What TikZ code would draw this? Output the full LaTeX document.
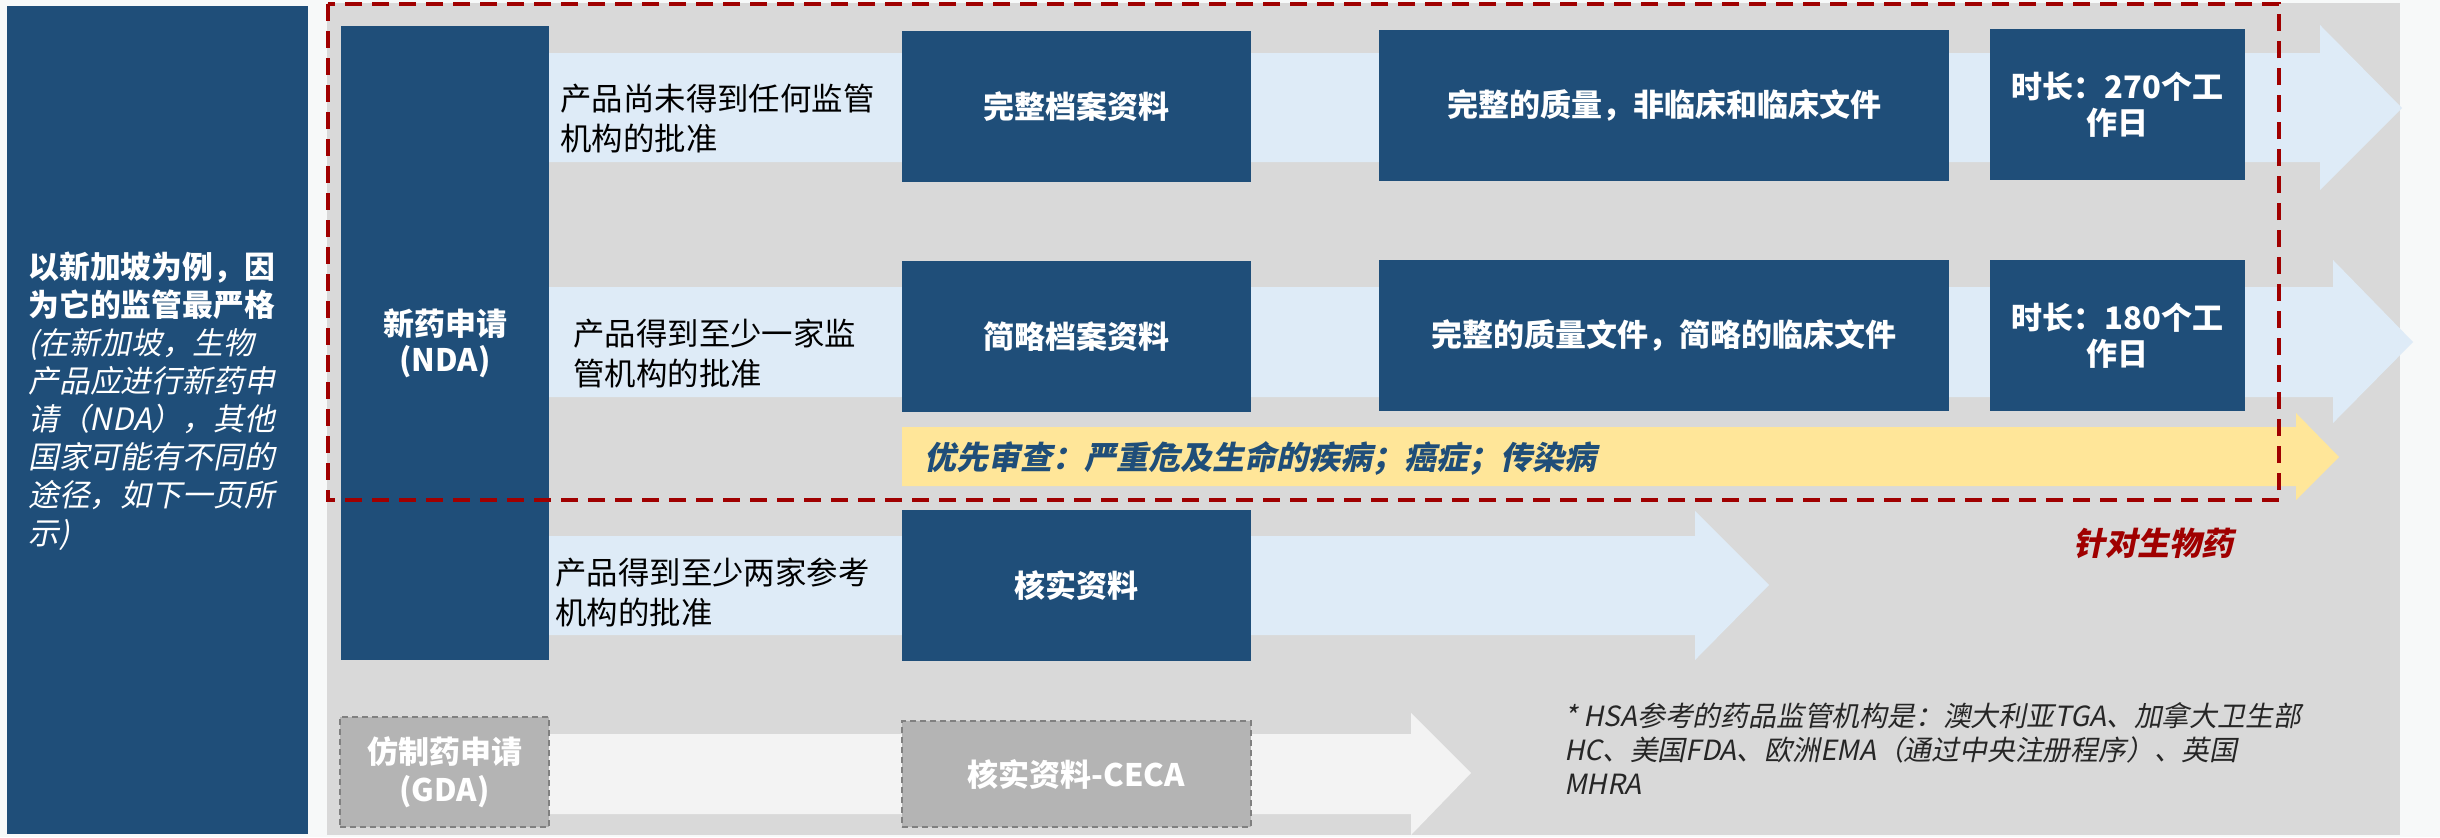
\documentclass[tikz,border=0pt]{standalone}
\usepackage{fontspec}
\setmainfont{Noto Sans CJK SC}
\newfontfamily\slantfont[FakeSlant=0.2]{Noto Sans CJK SC}
\definecolor{dblue}{HTML}{1F4E79}
\definecolor{lblue}{HTML}{DEEBF7}
\definecolor{panel}{HTML}{D9D9D9}
\definecolor{pagebg}{HTML}{F7F9F9}
\definecolor{yel}{HTML}{FFE699}
\definecolor{dred}{HTML}{A00000}
\definecolor{gboxc}{HTML}{B4B4B4}
\definecolor{gdash}{HTML}{808080}
\definecolor{gband}{HTML}{F3F3F3}
\definecolor{notec}{HTML}{262626}
\begin{document}
\begin{tikzpicture}[x=0.5pt,y=-0.5pt,
  box/.style={fill=dblue, text=white, font=\bfseries\fontsize{15.5}{18}\selectfont, align=center, inner sep=0pt},
  gbox/.style={fill=gboxc, draw=gdash, line width=1pt, dash pattern=on 3pt off 2pt, text=white, font=\bfseries\fontsize{15.5}{19}\selectfont, align=center, inner sep=0pt},
  lbl/.style={font=\fontsize{15.7}{20}\selectfont, align=left, inner sep=0pt, anchor=west, text=black},
  band/.style={fill=lblue, draw=none}
]
\useasboundingbox (0,0) rectangle (2440,837);
\fill[pagebg] (0,0) rectangle (2440,837);
% grey panel
\fill[panel] (327,3) rectangle (2400,835);
% left box
\node[fill=dblue, inner sep=0pt, minimum width=150.5pt, minimum height=414pt] (L) at (157.5,420) {};
\node[anchor=west, inner sep=0pt, align=left, text=white, font=\fontsize{15.4}{19}\selectfont] (Ltext) at (28,401)
 {\bfseries 以新加坡为例，因\\ \bfseries 为它的监管最严格\\
  \slantfont(在新加坡，生物\\ \slantfont 产品应进行新药申\\ \slantfont 请（NDA），其他\\
  \slantfont 国家可能有不同的\\ \slantfont 途径，如下一页所\\ \slantfont 示)};
% bands
\fill[band] (549,53) -- (2320,53) -- (2320,25) -- (2402,108) -- (2320,190) -- (2320,162) -- (549,162) -- cycle;
\fill[band] (549,287) -- (2333,287) -- (2333,260) -- (2413,342) -- (2333,423) -- (2333,397) -- (549,397) -- cycle;
\fill[band] (549,536) -- (1695,536) -- (1695,511) -- (1769,585) -- (1695,660) -- (1695,635) -- (549,635) -- cycle;
\fill[gband] (549,734) -- (1411,734) -- (1411,713) -- (1471,773) -- (1411,835) -- (1411,814) -- (549,814) -- cycle;
\fill[yel] (902,427) -- (2296,427) -- (2296,413) -- (2339,457) -- (2296,500) -- (2296,486) -- (902,486) -- cycle;
% NDA
\node[box, minimum width=104pt, minimum height=317pt] (nda) at (445,343) {新药申请\\(NDA)};
% boxes
\node[box, minimum width=174.5pt, minimum height=75.5pt] (full) at (1076.5,106.5) {完整档案资料};
\node[box, minimum width=174.5pt, minimum height=75.5pt] (brief) at (1076.5,336.5) {简略档案资料};
\node[box, minimum width=285pt, minimum height=75.5pt] (fq1) at (1664,105.5) {完整的质量，非临床和临床文件};
\node[box, minimum width=285pt, minimum height=75.5pt] (fq2) at (1664,335.5) {完整的质量文件，简略的临床文件};
\node[box, minimum width=127.5pt, minimum height=75.5pt] (t1) at (2117.5,104.5) {时长：270个工\\作日};
\node[box, minimum width=127.5pt, minimum height=75.5pt] (t2) at (2117.5,335.5) {时长：180个工\\作日};
\node[box, minimum width=174.5pt, minimum height=75.5pt] (verify) at (1076.5,585.5) {核实资料};
\node[gbox, minimum width=174.5pt, minimum height=53pt] (ceca) at (1076.5,774) {核实资料-CECA};
\node[gbox, minimum width=104.5pt, minimum height=55pt] (gda) at (444.5,772) {仿制药申请\\(GDA)};
% row labels
\node[lbl] (r1) at (560,119) {产品尚未得到任何监管\\机构的批准};
\node[lbl] (r2) at (573,353) {产品得到至少一家监\\管机构的批准};
\node[lbl] (r3) at (555,592) {产品得到至少两家参考\\机构的批准};
% priority text
\node[anchor=west, inner sep=0pt, text=dblue, font=\slantfont\bfseries\fontsize{16}{18}\selectfont] (prio) at (924,458) {优先审查：严重危及生命的疾病；癌症；传染病};
\node[anchor=center, inner sep=0pt, text=dred, font=\slantfont\bfseries\fontsize{16}{18}\selectfont] (bio) at (2153,543) {针对生物药};
% note
\node[anchor=west, inner sep=0pt, align=left, text=notec, font=\slantfont\fontsize{13.9}{17}\selectfont] (note) at (1564,749)
 {* HSA参考的药品监管机构是：澳大利亚TGA、加拿大卫生部\\HC、美国FDA、欧洲EMA（通过中央注册程序）、英国\\MHRA};
% dashed red frame
\draw[dred, line width=1.65pt, dash pattern=on 8.5pt off 5pt] (328,4) rectangle (2279,500);
\end{tikzpicture}
\end{document}
